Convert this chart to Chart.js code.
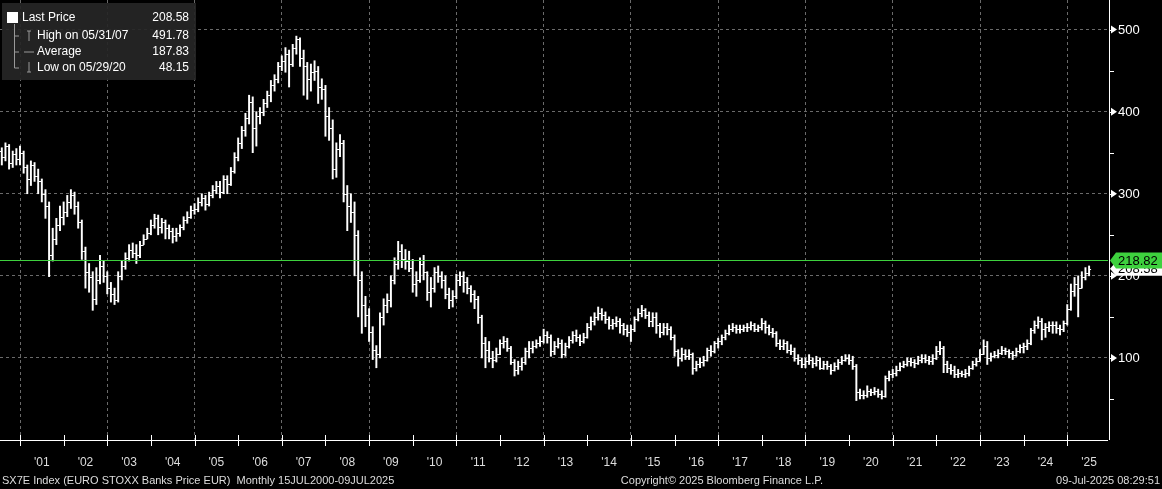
<!DOCTYPE html>
<html><head><meta charset="utf-8">
<script src="https://cdn.jsdelivr.net/npm/chart.js@4/dist/chart.umd.min.js"></script>
<style>html,body{margin:0;padding:0;background:#000;}#wrap{position:relative;width:1162px;height:489px;}</style>
</head><body><div id="wrap"><canvas id="c" width="1162" height="489"></canvas></div>
<script>
const startMonth = 6; // Jul 2000, months since Jan 2000
const closes = [
352,345,358,338,348,342,
350,332,318,335,322,315,300,285,225,245,262,272,
278,290,298,285,265,230,205,198,172,195,212,200,
185,178,170,200,212,222,232,228,225,238,245,252,
262,270,260,265,258,255,248,252,260,268,272,280,
282,290,295,288,298,305,310,302,318,312,328,345,
362,378,392,412,380,395,400,410,420,432,440,455,
462,470,458,478,488,465,455,440,448,450,430,428,
395,380,330,355,362,300,285,278,250,195,165,152,
132,110,105,150,165,170,195,215,230,220,218,210,
190,195,215,205,180,185,205,200,195,178,170,175,
195,200,192,185,178,172,150,118,110,100,98,105,
118,120,112,95,85,90,95,108,112,115,118,120,
128,125,108,115,118,105,115,122,128,126,120,125,
138,145,150,155,152,148,140,142,145,140,135,132,
135,148,155,158,152,145,150,140,132,138,135,125,
108,100,105,102,105,88,92,95,98,110,108,118,
120,125,130,135,138,135,135,138,138,140,135,138,
143,138,132,130,118,115,118,110,108,100,98,92,
96,98,94,98,88,92,90,85,90,95,98,100,
98,90,58,55,55,60,58,60,56,54,75,80,
82,85,90,92,96,95,94,98,100,98,96,100,
108,112,92,88,85,80,82,80,82,88,92,96,
105,115,100,102,104,106,110,108,106,104,108,113,
114,118,134,140,145,135,138,140,140,136,135,142,
160,182,190,185,198,204,208.58];
const highs = [
362,356,362,360,352,355,
358,352,335,340,338,330,318,305,290,258,270,285,
290,298,305,302,290,268,235,215,205,210,225,218,
205,192,185,205,218,228,238,240,238,242,250,258,
268,275,274,270,268,262,258,258,262,272,278,285,
288,295,300,298,302,310,315,315,322,322,332,350,
368,382,398,420,418,400,405,415,425,438,445,460,
468,478,475,482,492,490,475,460,458,462,455,440,
432,405,390,362,372,365,310,300,290,255,205,175,
160,138,115,155,172,178,200,222,242,238,232,230,
220,205,222,225,205,198,210,212,205,200,185,182,
202,205,205,198,188,182,175,152,125,120,108,112,
122,126,124,114,98,96,100,112,120,120,122,126,
135,132,128,120,124,122,118,126,132,134,128,130,
142,150,155,162,160,156,150,147,150,148,142,140,
140,150,160,164,160,156,155,155,142,142,142,138,
128,110,112,110,110,106,96,100,102,112,115,120,
124,128,134,140,142,140,140,140,142,144,142,140,
148,145,140,136,132,122,122,120,116,112,104,100,
100,104,100,102,100,96,96,92,94,98,102,104,
104,102,92,62,60,66,62,64,62,60,78,84,
86,90,94,96,100,100,98,102,104,104,102,104,
114,120,114,96,92,90,86,84,86,90,96,100,
110,122,120,106,108,110,114,112,110,108,112,116,
118,122,136,145,150,148,142,144,144,144,140,145,
165,190,198,200,205,210,212];
const lows = [
340,335,340,330,332,335,
335,325,300,310,315,300,290,270,199,218,238,255,
262,272,282,275,258,220,185,180,158,165,190,192,
178,168,165,168,195,208,218,222,215,222,238,245,
250,258,250,252,245,245,240,242,248,256,264,270,
275,278,285,280,285,295,300,295,300,300,310,325,
340,355,370,385,350,358,385,395,405,412,425,435,
450,448,430,455,470,455,420,415,425,438,410,415,
370,365,318,320,345,290,255,265,200,150,130,138,
120,98,88,100,140,155,162,190,208,210,208,205,
180,175,192,195,170,162,180,192,185,172,160,162,
172,188,180,178,168,160,142,100,88,95,88,95,
104,112,108,92,78,80,85,92,100,106,112,114,
118,118,102,104,112,100,102,112,118,120,115,118,
124,134,140,146,146,142,135,135,138,130,128,126,
120,132,145,150,148,138,138,130,125,128,128,122,
102,90,96,98,98,80,84,88,90,96,102,106,
112,116,122,128,132,130,130,132,132,134,132,132,
134,130,128,125,114,110,110,106,104,96,92,88,
88,92,88,90,86,86,86,80,84,86,92,96,
92,86,48,50,50,52,54,55,52,50,52,72,
76,78,84,88,90,90,88,92,94,94,92,92,
98,104,82,82,80,76,76,77,76,78,86,90,
96,104,92,96,100,100,104,104,100,98,102,106,
106,110,116,130,136,122,125,132,130,130,128,132,
140,158,175,150,185,195,200];
const yearLabels = ["'01","'02","'03","'04","'05","'06","'07","'08","'09","'10","'11","'12","'13","'14","'15","'16","'17","'18","'19","'20","'21","'22","'23","'24","'25"];
const yTickLabels = [100,200,300,400,500];
const refLine = 218.82, lastPrice = 208.58;
const legendRows = [["Last Price","208.58"],["High on 05/31/07","491.78"],["Average","187.83"],["Low on 05/29/20","48.15"]];

const bars = closes.map((c,i)=>({x:startMonth+i, y:[lows[i], highs[i]], o:i===0?c:closes[i-1], c:c}));

const deco = {
  id:'deco',
  afterDatasetsDraw(ch){
    const ctx=ch.ctx, xs=ch.scales.x, ys=ch.scales.y, a=ch.chartArea;
    ctx.save();
    ctx.strokeStyle='#fff'; ctx.lineWidth=1.2;
    bars.forEach(b=>{
      const x=xs.getPixelForValue(b.x);
      const yo=Math.round(ys.getPixelForValue(b.o))+0.5, yc=Math.round(ys.getPixelForValue(b.c))+0.5;
      ctx.beginPath(); ctx.moveTo(x-2,yo); ctx.lineTo(x,yo); ctx.moveTo(x,yc); ctx.lineTo(x+2,yc); ctx.stroke();
    });
    ctx.lineWidth=1;
    const gy=Math.round(ys.getPixelForValue(refLine))+0.5;
    ctx.strokeStyle='#3ed13e';
    ctx.beginPath(); ctx.moveTo(a.left,gy); ctx.lineTo(a.right,gy); ctx.stroke();
    ctx.strokeStyle='#fff'; ctx.beginPath(); ctx.moveTo(a.right+1.5,0); ctx.lineTo(a.right+1.5,a.bottom); ctx.stroke();
    for(let v=50; v<=530; v+=50){
      const y=Math.round(ys.getPixelForValue(v))+0.5;
      ctx.beginPath(); ctx.moveTo(a.right+1,y); ctx.lineTo(a.right+6,y); ctx.stroke();
    }
    ctx.font='13px "Liberation Sans", Arial'; ctx.textBaseline='middle'; ctx.fillStyle='#fff';
    yTickLabels.forEach(v=>{
      const y=ys.getPixelForValue(v);
      ctx.beginPath(); ctx.moveTo(a.right+3,y-4); ctx.lineTo(a.right+9,y); ctx.lineTo(a.right+3,y+4); ctx.fill();
      ctx.fillText(String(v), a.right+10, y+1);
    });
    const ly=ys.getPixelForValue(lastPrice);
    ctx.fillStyle='#fff';
    ctx.beginPath(); ctx.moveTo(a.right+2,ly); ctx.lineTo(a.right+8,ly-7); ctx.lineTo(1162,ly-7); ctx.lineTo(1162,ly+7); ctx.lineTo(a.right+8,ly+7); ctx.closePath(); ctx.fill();
    ctx.fillStyle='#000'; ctx.fillText(lastPrice.toFixed(2), a.right+10, ly+1);
    ctx.fillStyle='#3ed13e';
    ctx.beginPath(); ctx.moveTo(a.right+2,gy); ctx.lineTo(a.right+8,gy-8); ctx.lineTo(1162,gy-8); ctx.lineTo(1162,gy+8); ctx.lineTo(a.right+8,gy+8); ctx.closePath(); ctx.fill();
    ctx.fillStyle='#000'; ctx.fillText(refLine.toFixed(2), a.right+10, gy+1);
    ctx.strokeStyle='#fff';
    ctx.beginPath(); ctx.moveTo(a.left,a.bottom+0.5); ctx.lineTo(a.right,a.bottom+0.5); ctx.stroke();
    ctx.fillStyle='#ddd'; ctx.textAlign='center'; ctx.font='12px "Liberation Sans", Arial';
    for(let k=1;k<=25;k++){
      const x=Math.round(xs.getPixelForValue(12*k))+0.5;
      ctx.beginPath(); ctx.moveTo(x,a.bottom-5); ctx.lineTo(x,a.bottom+6); ctx.stroke();
      ctx.fillText(yearLabels[k-1], xs.getPixelForValue(12*k+6), 463);
    }
    ctx.font='11px "Liberation Sans", Arial'; ctx.fillStyle='#ddd';
    ctx.textAlign='left'; ctx.fillText('SX7E Index (EURO STOXX Banks Price EUR)  Monthly 15JUL2000-09JUL2025', 2, 481);
    ctx.textAlign='center'; ctx.fillText('Copyright\u00a9 2025 Bloomberg Finance L.P.', 722, 481);
    ctx.textAlign='right'; ctx.fillText('09-Jul-2025 08:29:51', 1160, 481);
    ctx.fillStyle='rgba(38,38,38,0.92)'; ctx.fillRect(2,3,194,77);
    ctx.font='12px "Liberation Sans", Arial'; ctx.textAlign='left';
    ctx.fillStyle='#fff'; ctx.fillRect(7,12,11,11);
    ctx.strokeStyle='#999'; ctx.beginPath(); ctx.moveTo(14.5,24); ctx.lineTo(14.5,68); ctx.lineTo(19,68); ctx.moveTo(14.5,36); ctx.lineTo(19,36); ctx.moveTo(14.5,52); ctx.lineTo(19,52); ctx.stroke();
    ctx.beginPath(); ctx.moveTo(27,31); ctx.lineTo(31,31); ctx.moveTo(29,31); ctx.lineTo(29,41); ctx.moveTo(24,52); ctx.lineTo(34,52); ctx.moveTo(29,62); ctx.lineTo(29,72); ctx.moveTo(27,72); ctx.lineTo(31,72); ctx.stroke();
    const rowsY=[18,36,52,68];
    legendRows.forEach((r,i)=>{
      ctx.fillStyle='#fff'; ctx.textAlign='left'; ctx.fillText(r[0], i===0?22:37, rowsY[i]);
      ctx.textAlign='right'; ctx.fillText(r[1], 189, rowsY[i]);
    });
    ctx.restore();
  }
};

new Chart(document.getElementById('c'),{
  type:'bar',
  data:{datasets:[{data:bars, backgroundColor:'#fff', barThickness:1.3, borderWidth:0}]},
  options:{
    responsive:false, animation:false, events:[],
    layout:{padding:{left:0,right:0,top:0,bottom:49}},
    plugins:{legend:{display:false},tooltip:{enabled:false}},
    scales:{
      x:{type:'linear', min:6.5, max:311.2, offset:false,
         afterBuildTicks(s){ const t=[]; for(let k=2;k<=24;k+=2) t.push({value:12*k}); s.ticks=t; },
         ticks:{display:false}, border:{display:false, dash:[3,3]},
         grid:{color:'#6a6a6a', lineWidth:1, tickLength:0} },
      y:{position:'right', min:0, max:536,
         afterBuildTicks(s){ s.ticks=yTickLabels.map(v=>({value:v})); },
         afterFit(s){ s.width=54; },
         ticks:{display:false}, border:{display:false, dash:[3,3]},
         grid:{color:'#6a6a6a', lineWidth:1, tickLength:0} }
    }
  },
  plugins:[deco]
});
</script></body></html>
